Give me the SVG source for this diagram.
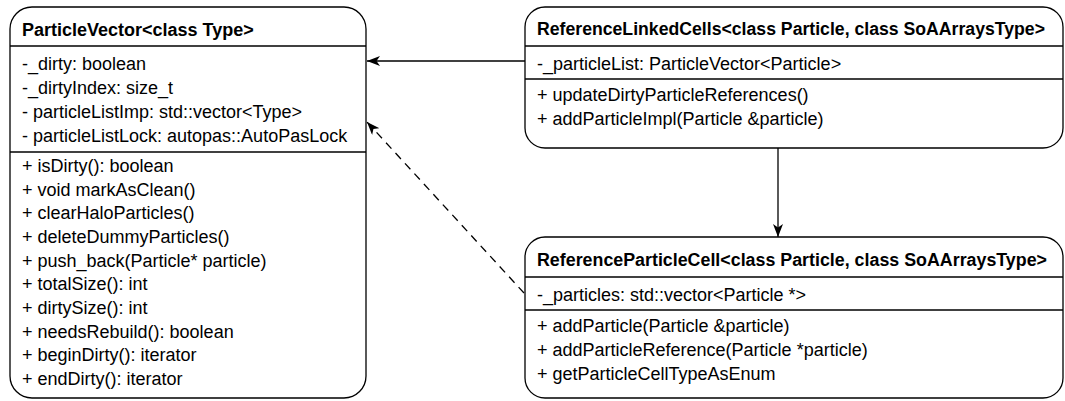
<svg xmlns="http://www.w3.org/2000/svg" width="1065" height="401" viewBox="0 0 1065 401">
<style>
.box{fill:#fff;stroke:#000;stroke-width:1.3}
.div{stroke:#000;stroke-width:1.3}
.t{font-family:"Liberation Sans",Arial,sans-serif;font-size:18px;fill:#000}
.h{font-weight:bold}
.con{fill:none;stroke:#000;stroke-width:1.3}
</style>
<defs>
<marker id="arr" markerWidth="13" markerHeight="10" refX="13" refY="5" orient="auto" markerUnits="userSpaceOnUse">
<path d="M0,0 L13,5 L0,10 L3.5,5 Z" fill="#000"/>
</marker>
</defs>
<rect width="1065" height="401" fill="#fff"/>
<g id="connectors">
<line class="con" x1="526" y1="61" x2="367" y2="61" marker-end="url(#arr)"/>
<line class="con" x1="778" y1="148" x2="778" y2="237" marker-end="url(#arr)"/>
<line class="con" x1="524" y1="293" x2="367" y2="122" stroke-dasharray="8 6" marker-end="url(#arr)"/>
</g>
<g id="ParticleVector">
<rect class="box" x="10" y="7" width="356" height="391" rx="22"/>
<line class="div" x1="10" y1="46" x2="366" y2="46"/>
<line class="div" x1="10" y1="152" x2="366" y2="152"/>
<text class="t h" x="22" y="36">ParticleVector&lt;class Type&gt;</text>
<text class="t" x="22" y="70">-_dirty: boolean</text>
<text class="t" x="22" y="94">-_dirtyIndex: size_t</text>
<text class="t" x="22" y="118">- particleListImp: std::vector&lt;Type&gt;</text>
<text class="t" x="22" y="142">- particleListLock: autopas::AutoPasLock</text>
<text class="t" x="22" y="172">+ isDirty(): boolean</text>
<text class="t" x="22" y="196">+ void markAsClean()</text>
<text class="t" x="22" y="219">+ clearHaloParticles()</text>
<text class="t" x="22" y="243">+ deleteDummyParticles()</text>
<text class="t" x="22" y="267">+ push_back(Particle* particle)</text>
<text class="t" x="22" y="290">+ totalSize(): int</text>
<text class="t" x="22" y="314">+ dirtySize(): int</text>
<text class="t" x="22" y="338">+ needsRebuild(): boolean</text>
<text class="t" x="22" y="361">+ beginDirty(): iterator</text>
<text class="t" x="22" y="385">+ endDirty(): iterator</text>
</g>
<g id="ReferenceLinkedCells">
<rect class="box" x="525" y="7" width="538" height="141" rx="20"/>
<line class="div" x1="525" y1="46" x2="1063" y2="46"/>
<line class="div" x1="525" y1="79" x2="1063" y2="79"/>
<text class="t h" x="537" y="35" textLength="508" lengthAdjust="spacingAndGlyphs">ReferenceLinkedCells&lt;class Particle, class SoAArraysType&gt;</text>
<text class="t" x="537" y="70">-_particleList: ParticleVector&lt;Particle&gt;</text>
<text class="t" x="537" y="101">+ updateDirtyParticleReferences()</text>
<text class="t" x="537" y="125">+ addParticleImpl(Particle &amp;particle)</text>
</g>
<g id="ReferenceParticleCell">
<rect class="box" x="525" y="237" width="538" height="161" rx="20"/>
<line class="div" x1="525" y1="277" x2="1063" y2="277"/>
<line class="div" x1="525" y1="310" x2="1063" y2="310"/>
<text class="t h" x="537" y="266" textLength="510" lengthAdjust="spacingAndGlyphs">ReferenceParticleCell&lt;class Particle, class SoAArraysType&gt;</text>
<text class="t" x="537" y="301">-_particles: std::vector&lt;Particle *&gt;</text>
<text class="t" x="537" y="332">+ addParticle(Particle &amp;particle)</text>
<text class="t" x="537" y="356">+ addParticleReference(Particle *particle)</text>
<text class="t" x="537" y="380">+ getParticleCellTypeAsEnum</text>
</g>
</svg>
